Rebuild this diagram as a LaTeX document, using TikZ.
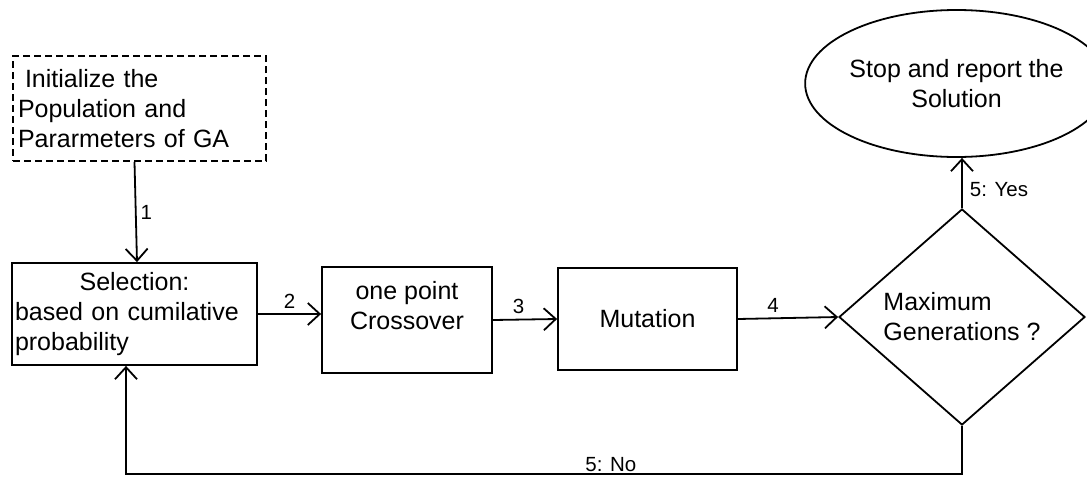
\documentclass[tikz,border=0pt]{standalone}
\usepackage{fontspec}
\setmainfont{Liberation Sans}
\usetikzlibrary{arrows.meta,shapes.geometric}

\begin{document}
\begin{tikzpicture}[x=1pt, y=-1pt, line width=1.8pt,
    >={Straight Barb[length=12pt,width=22pt]},
    txt/.style={draw, inner sep=0pt, font=\fontsize{25}{30}\selectfont},
    lbl/.style={inner sep=2pt, font=\fontsize{20.5}{24}\selectfont}]

  %% ════ 各个步骤框 ════
  \node[txt, rectangle, dashed, dash pattern=on 7pt off 4pt, minimum width=253pt, minimum height=105pt,
        text width=243pt, align=left] (init) at (139.5,108.5)
        {\hspace*{7pt}Initialize the\\Population and\\Pararmeters of GA};
  \node[txt, rectangle, minimum width=245pt, minimum height=102pt, text width=239pt, align=left] (sel) at (134.5,314)
        {\makebox[239pt]{Selection:}\\based on cumilative\\probability};
  \node[txt, rectangle, minimum width=170pt, minimum height=106pt, align=center] (cross) at (407,320)
        {one point\\Crossover\\\vphantom{X}};
  \node[txt, rectangle, minimum width=179pt, minimum height=102pt] (mut) at (647.5,319) {Mutation};
  \node[txt, diamond, minimum width=246pt, minimum height=216pt, align=left] (dec) at (962,317)
        {Maximum\\Generations ?};
  \node[txt, ellipse, minimum width=261pt, minimum height=147pt, align=center] (stop) at (956.5,83.5)
        {Stop and report the\\Solution};

  %% ════ 连线 ════
  \draw[->] ([xshift=-5pt]init.south) -- ([xshift=2.5pt]sel.north) node[lbl, midway, right=2pt] {1};
  \draw[->] (sel.east) -- (sel.east -| cross.west) node[lbl, midway, above=3pt] {2};
  \draw[->] (cross.east) -- (mut.west) node[lbl, pos=0.4, above=3pt] {3};
  \draw[->] (mut.east) -- (dec.west) node[lbl, pos=0.35, above=3pt] {4};
  \draw[->] (dec.north) -- (dec.north |- stop.south) node[lbl, pos=0.37, right=5pt] {5: Yes};
  \draw[->] (dec.south) -- ++(0,48) -| ([xshift=-8.5pt]sel.south) node[lbl, pos=0.21, above=-1pt] {5: No};

  % 固定画布大小
  \pgfresetboundingbox
  \path[use as bounding box] (0,0) rectangle (1087,477);
\end{tikzpicture}
\end{document}
